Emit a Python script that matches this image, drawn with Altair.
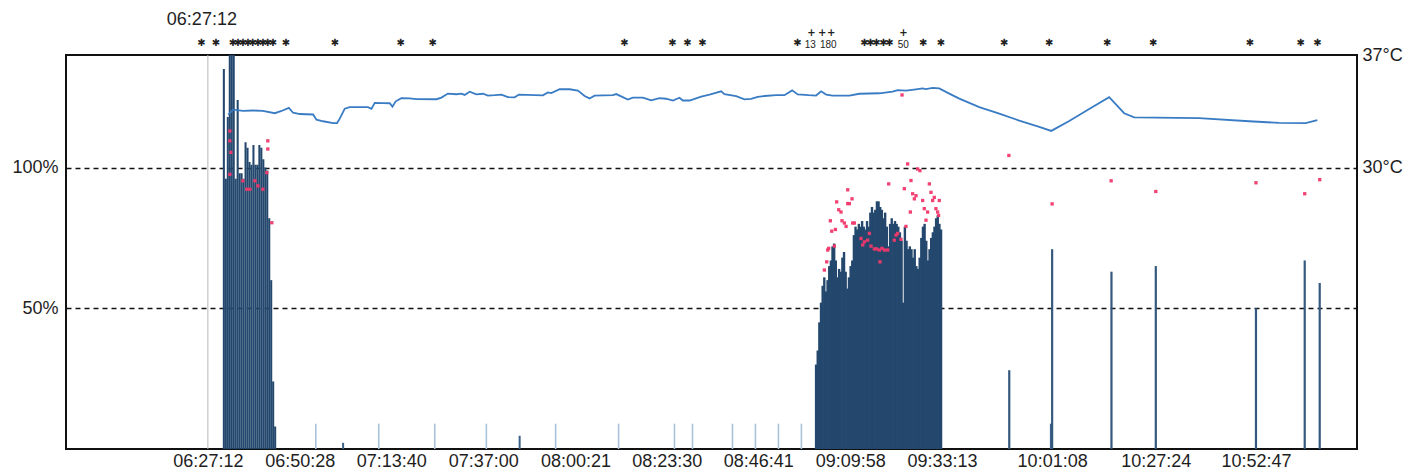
import altair as alt
import pandas as pd

# ---- recorded data -------------------------------------------------------

# intensity bursts (% of reference), sampled at a fixed interval
burst1_start, burst1_step = "06:31:15", 30
burst1_pct = [135, 96, 118, 140, 140, 140, 96, 124, 98, 98, 96, 109, 107, 102,
              101, 108, 101, 101, 108, 107, 103, 100, 99, 82, 60, 24, 8]

burst2_start, burst2_step = "09:01:19", 25
burst2_pct = [30, 35, 45, 52, 58, 61, 56, 60, 65, 67,
              72, 73, 67, 61, 64, 63, 68, 70, 63, 57,
              61, 65, 67, 76, 79, 78, 80, 79, 81, 79,
              78, 81, 79, 84, 86, 84, 85, 88, 88, 86,
              85, 82, 84, 79, 72, 80, 82, 80, 81, 80,
              79, 77, 74, 52, 79, 74, 71, 72, 71, 68,
              71, 65, 64, 68, 75, 79, 80, 74, 67, 71,
              75, 77, 79, 82, 83, 80, 78]

# short single readings
check_times = ["06:54:33", "07:10:30", "07:24:41", "07:37:46", "07:55:19", "08:11:16",
               "08:25:26", "08:30:00", "08:40:08", "08:45:57", "08:51:47", "08:57:36"]
check_pct = [9, 9, 9, 9, 9, 9, 9, 9, 9, 9, 9, 9]

minor_times = ["07:01:28", "07:46:12", "10:00:49"]
minor_pct = [2.2, 4.7, 9]

single_times = ["09:50:16", "10:01:08", "10:16:10", "10:27:24", "10:52:47", "11:05:08", "11:08:56"]
single_pct = [28, 71, 63, 65, 50, 67, 59]

# secondary readings (%)
dot_times = ["06:32:46", "06:32:46", "06:33:01", "06:32:46", "06:36:04", "06:37:04", "06:37:50",
             "06:39:06", "06:39:52", "06:41:08", "06:42:08", "06:42:23", "06:42:23", "06:43:24",
             "09:03:25", "09:04:01", "09:04:16", "09:04:31", "09:04:56", "09:05:17", "09:05:57",
             "09:06:13", "09:06:32", "09:07:03", "09:07:38", "09:07:53", "09:08:29", "09:08:55",
             "09:09:20", "09:09:20", "09:09:45", "09:10:26", "09:10:35", "09:11:01", "09:12:42",
             "09:13:08", "09:13:33", "09:14:23", "09:14:49", "09:15:14", "09:16:05", "09:16:40",
             "09:17:21", "09:17:31", "09:18:01", "09:18:37", "09:19:28", "09:19:43", "09:21:08",
             "09:21:34", "09:21:59", "09:22:50", "09:23:41", "09:24:06", "09:24:31", "09:25:12",
             "09:25:22", "09:25:47", "09:26:13", "09:26:38", "09:27:03", "09:27:38", "09:28:19",
             "09:28:44", "09:29:10", "09:29:35", "09:30:01", "09:30:26", "09:30:51", "09:31:16",
             "09:31:41", "09:32:07", "09:32:22", "09:32:32", "09:23:06",
             "09:50:10", "10:01:08", "10:16:05", "10:27:24", "10:52:47", "11:05:08", "11:08:56"]
dot_pct = [113, 109.5, 105.4, 97.6, 95.3, 92.3, 92.3, 95.3, 93.5, 92.3, 98.2, 109.5, 106.6, 80.4,
           63.6, 66.5, 70.7, 71.3, 81.1, 77.4, 72.1, 78.0, 87.8, 85.0, 84.2, 81.1, 80.3, 79.1,
           92.1, 87.2, 87.2, 88.9, 80.3, 80.3, 74.8, 72.5, 73.6, 74.2, 76.6, 72.1, 71.1, 71.1,
           70.7, 66.5, 71.3, 70.7, 70.7, 94.2, 74.2, 76.0, 76.6, 74.5, 92.5, 79.1, 101.3, 84.2,
           95.4, 90.7, 88.9, 90.0, 99.5, 98.9, 88.3, 85.4, 81.3, 84.2, 94.2, 91.2, 88.3, 89.4,
           85.4, 84.2, 83.0, 88.3, 125.8,
           104.3, 87.1, 95.3, 91.5, 94.6, 90.7, 95.7]

# temperature (deg C)
temp_times = ["06:32:20", "06:33:37", "06:36:08", "06:38:35", "06:41:08", "06:44:10", "06:45:52",
              "06:47:43", "06:48:48", "06:50:29", "06:53:52", "06:54:43", "06:56:23", "06:58:56",
              "06:59:56", "07:00:37", "07:01:53", "07:03:09", "07:05:41", "07:07:47", "07:08:39",
              "07:09:29", "07:11:35", "07:13:17", "07:13:58", "07:14:48", "07:16:14", "07:18:21",
              "07:20:02", "07:25:07", "07:26:22", "07:28:02", "07:30:10", "07:31:26", "07:32:16",
              "07:33:32", "07:35:14", "07:36:55", "07:38:10", "07:39:52", "07:41:34", "07:43:14",
              "07:44:56", "07:46:01", "07:52:06", "07:53:22", "07:54:13", "07:56:20", "07:58:52",
              "08:00:58", "08:02:40", "08:03:55", "08:05:11", "08:09:49", "08:10:41", "08:13:37",
              "08:14:53", "08:17:25", "08:19:32", "08:21:39", "08:23:20", "08:25:01", "08:26:43",
              "08:27:33", "08:29:14", "08:32:12", "08:34:19", "08:37:16", "08:38:06", "08:41:04",
              "08:43:10", "08:44:52", "08:46:32", "08:48:14", "08:51:11", "08:53:18", "08:55:15",
              "08:56:40", "08:59:27", "09:01:19", "09:02:35", "09:03:52", "09:05:32", "09:09:45",
              "09:12:17", "09:17:21", "09:20:43", "09:21:59", "09:24:07", "09:26:38", "09:28:19",
              "09:29:10", "09:30:51", "09:32:32", "09:35:04", "09:37:37", "09:42:40", "09:47:44",
              "09:52:48", "09:57:52", "10:00:54", "10:05:28", "10:10:31", "10:15:35", "10:19:23",
              "10:21:55", "10:38:22", "10:51:02", "10:58:38", "11:05:23", "11:08:20"]
temp_c = [33.29, 33.60, 33.53, 33.55, 33.53, 33.38, 33.52,
          33.71, 33.41, 33.33, 33.30, 32.98, 32.88, 32.77,
          32.77, 33.04, 33.66, 33.76, 33.76, 33.76, 33.65,
          34.02, 34.01, 34.00, 33.79, 34.12, 34.31, 34.30,
          34.26, 34.25, 34.35, 34.60, 34.56, 34.60, 34.52,
          34.72, 34.55, 34.59, 34.47, 34.50, 34.54, 34.38,
          34.37, 34.54, 34.49, 34.67, 34.63, 34.88, 34.87,
          34.79, 34.45, 34.30, 34.47, 34.50, 34.57, 34.23,
          34.35, 34.35, 34.18, 34.32, 34.28, 34.17, 34.34,
          34.17, 34.17, 34.41, 34.54, 34.74, 34.57, 34.44,
          34.24, 34.27, 34.39, 34.45, 34.51, 34.50, 34.80,
          34.55, 34.50, 34.48, 34.74, 34.54, 34.47, 34.47,
          34.59, 34.62, 34.72, 34.82, 34.78, 34.86, 34.92,
          34.88, 34.95, 34.92, 34.60, 34.29, 33.76, 33.36,
          32.92, 32.53, 32.28, 32.90, 33.64, 34.38, 33.38,
          33.12, 33.07, 32.88, 32.78, 32.77, 32.95]

# event markers along the top
event_times = ["06:25:36", "06:29:14", "06:33:32", "06:34:48", "06:36:04", "06:37:20", "06:38:35",
               "06:39:52", "06:41:08", "06:42:23", "06:43:40", "06:46:57", "06:59:22", "07:16:04",
               "07:24:10", "08:12:47", "08:24:56", "08:28:44", "08:32:32", "08:56:35", "09:13:33",
               "09:15:04", "09:16:35", "09:18:22", "09:19:53", "09:28:29", "09:32:58", "09:49:00",
               "10:00:23", "10:15:05", "10:26:44", "10:51:17", "11:04:07", "11:08:20"]
flag_times = ["09:00:08", "09:02:50", "09:05:07", "09:23:26"]
note_times = ["08:59:50", "09:04:25", "09:23:26"]
note_texts = ["13", "180", "50"]

cursor_time = "06:27:12"
tick_times = ["06:27:12", "06:50:28", "07:13:40", "07:37:00", "08:00:21", "08:23:30",
              "08:46:41", "09:09:58", "09:33:13", "10:01:08", "10:27:24", "10:52:47"]


def secs(hms):
    h, m, s = (int(p) for p in hms.split(":"))
    return h * 3600 + m * 60 + s


def burst(start, step, values):
    t0 = secs(start)
    return pd.DataFrame({"t": [t0 + i * step for i in range(len(values))], "pct": values})


burst1 = burst(burst1_start, burst1_step, burst1_pct)
burst2 = burst(burst2_start, burst2_step, burst2_pct)
checks = pd.DataFrame({"t": [secs(s) for s in check_times], "pct": check_pct})
minors = pd.DataFrame({"t": [secs(s) for s in minor_times], "pct": minor_pct})
singles = pd.DataFrame({"t": [secs(s) for s in single_times], "pct": single_pct})
dots = pd.DataFrame({"t": [secs(s) for s in dot_times], "pct": dot_pct})
temps = pd.DataFrame({"t": [secs(s) for s in temp_times], "temp": temp_c})
events = pd.DataFrame({"t": [secs(s) for s in event_times]})
flags = pd.DataFrame({"t": [secs(s) for s in flag_times]})
notes = pd.DataFrame({"t": [secs(s) for s in note_times], "label": note_texts})
cursor = pd.DataFrame({"t": [secs(cursor_time)], "label": [cursor_time]})

# ---- encodings -----------------------------------------------------------
FONT = "Liberation Sans"
INK = "#1e1e1e"
BAR = "#24486d"

x_axis = alt.Axis(values=[secs(s) for s in tick_times],
                  labelExpr="utcFormat(datum.value * 1000, '%H:%M:%S')",
                  domain=False, ticks=False, grid=False, labelPadding=3,
                  labelOverlap=False, labelFontSize=18, labelFont=FONT, labelColor=INK)
X = alt.X("t:Q", scale=alt.Scale(domain=[21075, 40703], nice=False, zero=False),
          axis=x_axis, title=None)

y_axis = alt.Axis(values=[50, 100], labelExpr="datum.value + '%'", domain=False, ticks=False,
                  grid=True, gridColor="#111111", gridDash=[5, 4], gridWidth=1.3,
                  labelPadding=8, labelFontSize=18, labelFont=FONT, labelColor=INK)
Y = alt.Y("pct:Q", scale=alt.Scale(domain=[0, 140], nice=False), axis=y_axis, title=None)
Y0 = alt.datum(0)

burst1_bars = alt.Chart(burst1).mark_rule(color=BAR, strokeWidth=2.05, clip=True).encode(
    x=X, y=Y, y2=Y0)
burst2_bars = alt.Chart(burst2).mark_rule(color=BAR, strokeWidth=2.4, clip=True).encode(
    x=X, y=Y, y2=Y0)
check_bars = alt.Chart(checks).mark_rule(color="#a9c3da", strokeWidth=1.6).encode(x=X, y=Y, y2=Y0)
minor_bars = alt.Chart(minors).mark_rule(color="#3d6189", strokeWidth=2).encode(x=X, y=Y, y2=Y0)
single_bars = alt.Chart(singles).mark_rule(color="#34587e", strokeWidth=2.2).encode(x=X, y=Y, y2=Y0)
dot_marks = alt.Chart(dots).mark_square(color="#f0386b", size=11, opacity=0.95).encode(x=X, y=Y)

cursor_rule = alt.Chart(cursor).mark_rule(color="#b8b8b8", strokeWidth=1).encode(x=X)
cursor_text = alt.Chart(cursor).mark_text(font=FONT, fontSize=18, color=INK, dx=-6,
                                          baseline="middle").encode(
    x=X, y=alt.value(-35), text="label:N")

event_marks = alt.Chart(events).mark_text(text="✱", font="DejaVu Sans", fontSize=10,
                                          color="#222222", baseline="middle").encode(
    x=X, y=alt.value(-12))
flag_marks = alt.Chart(flags).mark_text(text="+", font="DejaVu Sans", fontSize=10,
                                        fontWeight="bold", color="#222222",
                                        baseline="middle").encode(x=X, y=alt.value(-22))
note_marks = alt.Chart(notes).mark_text(font=FONT, fontSize=10, color="#222222",
                                        baseline="middle").encode(
    x=X, y=alt.value(-10), text="label:N")

temp_axis = alt.Axis(orient="right", values=[30, 37], labelExpr="datum.value + '°C'",
                     domain=False, ticks=False, grid=False, labelPadding=5,
                     labelFontSize=18, labelFont=FONT, labelColor=INK)
temp_line = alt.Chart(temps).mark_line(color="#3a7cc4", strokeWidth=1.8).encode(
    x=X, y=alt.Y("temp:Q", scale=alt.Scale(domain=[12.5, 37], nice=False, zero=False),
                 axis=temp_axis, title=None))

left_group = alt.layer(burst1_bars, burst2_bars, check_bars, minor_bars, single_bars,
                       cursor_rule, dot_marks, cursor_text, event_marks, flag_marks, note_marks)

chart = (
    alt.layer(left_group, temp_line)
    .resolve_scale(y="independent")
    .properties(width=1291, height=394,
                padding={"left": 66, "top": 55, "right": 48, "bottom": 21},
                autosize=alt.AutoSizeParams(type="none"),
                background="white")
    .configure_view(stroke="#111111", strokeWidth=2)
)

chart.save("out.html", embed_options={"renderer": "svg", "actions": False})
